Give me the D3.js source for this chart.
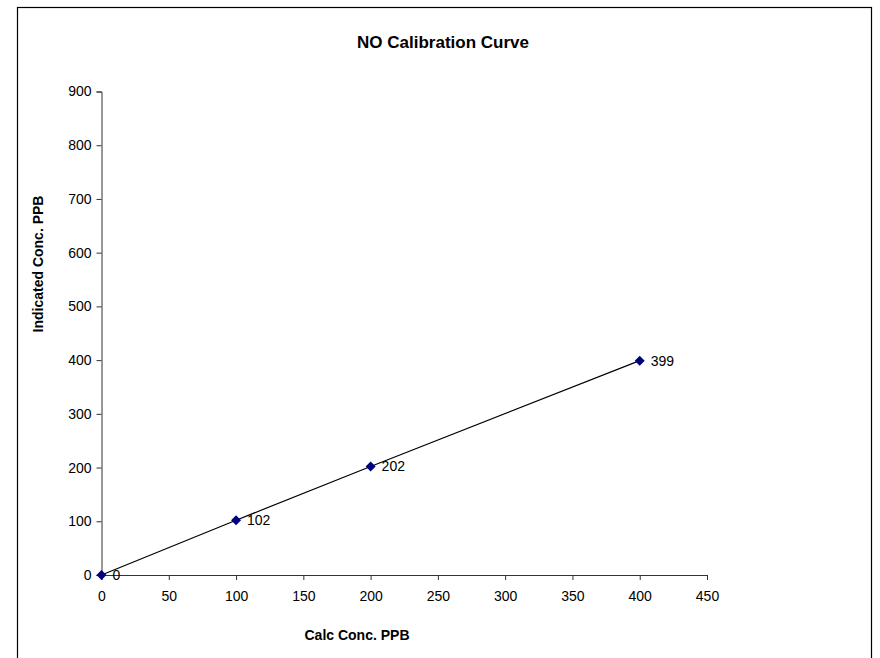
<!DOCTYPE html>
<html>
<head>
<meta charset="utf-8">
<script src="https://cdn.jsdelivr.net/npm/d3@7"></script>
<style>
  html, body { margin: 0; padding: 0; background: #fff; }
  svg text { font-family: Arial, "Liberation Sans", sans-serif; fill: #000; }
</style>
</head>
<body>
<svg id="chart" width="880" height="658"></svg>
<script>
// Calibration readings: calculated vs. indicated concentration (PPB)
const calcConc = [0, 100, 200, 400];
const indicatedConc = [0, 102, 202, 399];
const xTicks = [0, 50, 100, 150, 200, 250, 300, 350, 400, 450];
const yTicks = [0, 100, 200, 300, 400, 500, 600, 700, 800, 900];
const chartTitle = "NO Calibration Curve";
const xTitle = "Calc Conc. PPB";
const yTitle = "Indicated Conc. PPB";

const points = calcConc.map((c, i) => ({ x: c, y: indicatedConc[i] }));

const svg = d3.select("#chart");

// Outer chart frame
svg.append("rect")
  .attr("x", 17.5).attr("y", 7.5)
  .attr("width", 854).attr("height", 660)
  .attr("fill", "none").attr("stroke", "#000").attr("stroke-width", 1.2);

const x = d3.scaleLinear().domain([0, 450]).range([101.5, 707]);
const y = d3.scaleLinear().domain([0, 900]).range([575, 91.5]);

// Axes
const xAxis = svg.append("g")
  .attr("transform", `translate(0,${y(0)})`)
  .call(d3.axisBottom(x).tickValues(xTicks).tickSize(5).tickPadding(11).tickFormat(d3.format("d")));
const yAxis = svg.append("g")
  .attr("transform", `translate(${x(0)},0)`)
  .call(d3.axisLeft(y).tickValues(yTicks).tickSize(5).tickPadding(5).tickFormat(d3.format("d")));

[xAxis, yAxis].forEach(g => {
  g.select(".domain").attr("stroke", "#333").attr("stroke-width", 1);
  g.selectAll(".tick line").attr("stroke", "#333");
  g.selectAll(".tick text").attr("font-size", 14).attr("fill", "#000")
    .style("font-family", "Arial, 'Liberation Sans', sans-serif");
});

// Series line
svg.append("path")
  .datum(points)
  .attr("fill", "none")
  .attr("stroke", "#000")
  .attr("stroke-width", 1.2)
  .attr("d", d3.line().x(d => x(d.x)).y(d => y(d.y)));

// Diamond markers
svg.selectAll(".marker")
  .data(points)
  .join("path")
  .attr("class", "marker")
  .attr("transform", d => `translate(${x(d.x)},${y(d.y)})`)
  .attr("d", "M0,-5L5,0L0,5L-5,0Z")
  .attr("fill", "#000080");

// Value labels
svg.selectAll(".vlabel")
  .data(points)
  .join("text")
  .attr("class", "vlabel")
  .attr("x", d => x(d.x) + 11)
  .attr("y", d => y(d.y))
  .attr("dy", "0.35em")
  .attr("font-size", 14)
  .text(d => d.y);

// Titles
svg.append("text")
  .attr("x", 443).attr("y", 48)
  .attr("text-anchor", "middle")
  .attr("font-size", 17).attr("font-weight", "bold")
  .text(chartTitle);

svg.append("text")
  .attr("x", 357).attr("y", 640)
  .attr("text-anchor", "middle")
  .attr("font-size", 14).attr("font-weight", "bold")
  .text(xTitle);

svg.append("text")
  .attr("transform", "translate(43,264) rotate(-90)")
  .attr("text-anchor", "middle")
  .attr("font-size", 14).attr("font-weight", "bold")
  .text(yTitle);
</script>
</body>
</html>
